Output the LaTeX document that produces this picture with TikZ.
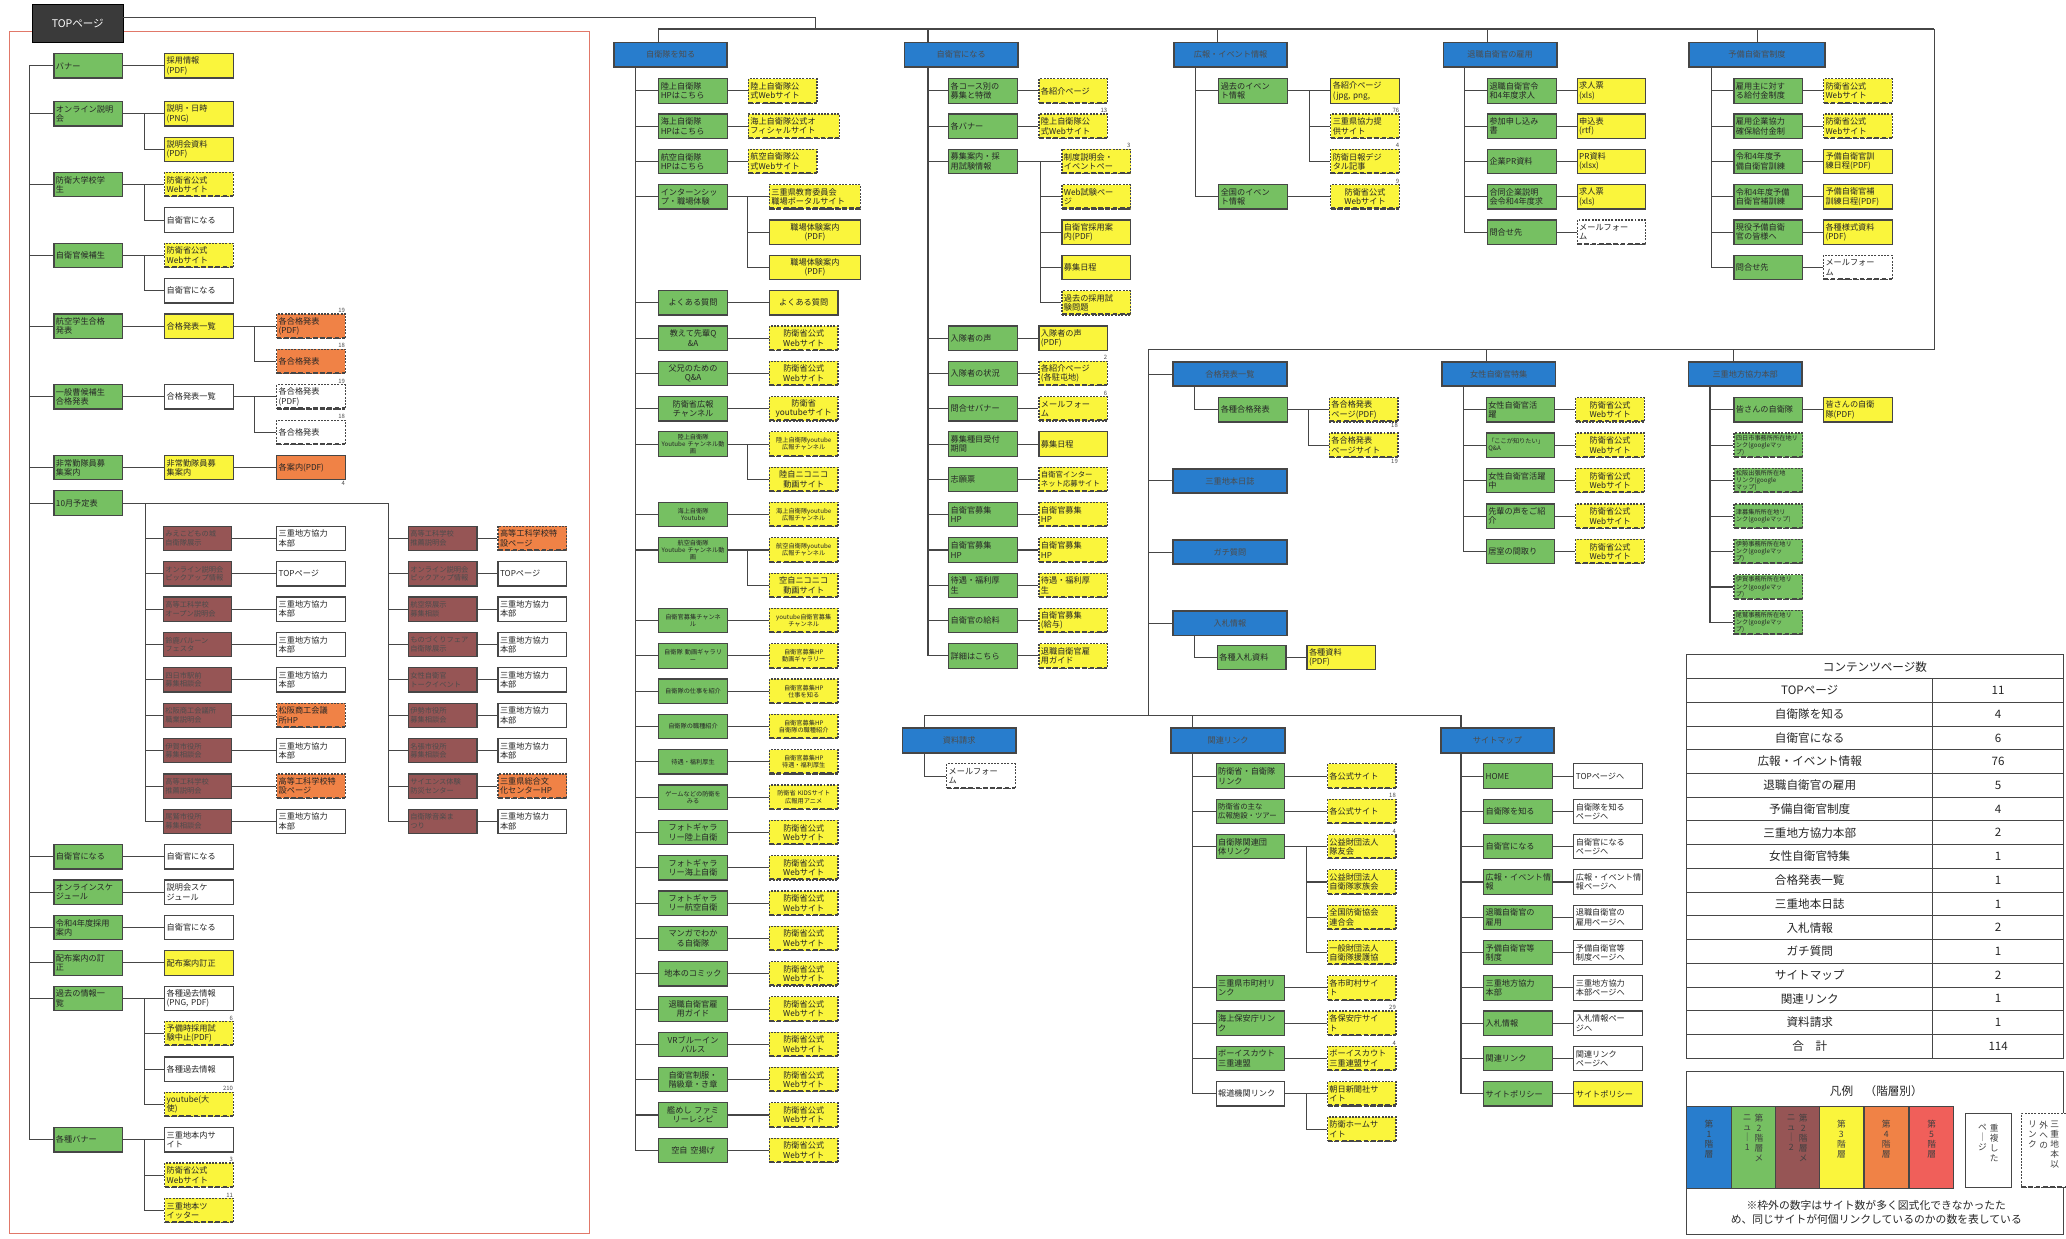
\documentclass[tikz,border=0pt]{standalone}
\usepackage{fontspec}
\setmainfont{Noto Sans CJK JP}
\usetikzlibrary{calc}
\definecolor{cblue}{RGB}{40,125,205}
\definecolor{cgreen}{RGB}{118,192,98}
\definecolor{cbrown}{RGB}{150,85,85}
\definecolor{cyel}{RGB}{250,245,60}
\definecolor{corg}{RGB}{240,130,70}
\definecolor{cred}{RGB}{240,95,90}
\definecolor{cdark}{RGB}{58,58,58}
\definecolor{cframe}{RGB}{225,120,105}
\definecolor{cline}{RGB}{70,70,70}
\newcommand\fsA{\fontsize{6.2}{7.1}\selectfont}
\newcommand\fsB{\fontsize{4.7}{5.4}\selectfont}
\tikzset{
  bx/.style={draw=cline, line width=0.9pt, minimum width=52pt, minimum height=18.5pt, inner xsep=1.5pt, inner ysep=0.5pt, text width=49pt, align=left, font=\fsA, text=black!85},
  gr/.style={bx, fill=cgreen},
  yel/.style={bx, fill=cyel},
  wht/.style={bx, fill=white},
  org/.style={bx, fill=corg},
  brn/.style={bx, fill=cbrown, text=black!70, font=\fontsize{5.5}{6.5}\selectfont},
  wd/.style={minimum width=69pt, text width=66pt},
  blu/.style={draw=cline, line width=1.4pt, fill=cblue, minimum width=86pt, minimum height=18.5pt, inner sep=1pt, font=\fsA, text=black!70},
  extl/.style={dash pattern=on 1.5pt off 1pt, path picture={\draw[cline, line width=2.4pt, dash pattern=on 3.5pt off 2pt] (path picture bounding box.south west) -- (path picture bounding box.south east);}},
  cn/.style={draw=cline, line width=0.8pt},
  numl/.style={font=\fontsize{4.5}{5}\selectfont, inner sep=0.4pt, text=black!70},
  sw/.style={draw=cline, line width=0.6pt, minimum width=33.5pt, minimum height=62pt, inner sep=0pt},
  vt/.style={font=\fontsize{6.6}{7.6}\selectfont, align=center, inner sep=0pt, text=black!75},
  tt/.style={font=\fontsize{8.8}{9}\selectfont, inner sep=0pt, text=black!85}
}
\begin{document}
\begin{tikzpicture}[x=1pt,y=-1pt]
\useasboundingbox[fill=white] (0,0) rectangle (1568,940);
\draw[cframe, line width=0.7pt] (7,24) rectangle (447,936);

% ---------- TOP ----------
\node[draw=black, fill=cdark, minimum width=69pt, minimum height=29pt, text=white, font=\fontsize{8}{9}\selectfont, inner sep=1pt] (top) at (59,17.5) {TOPページ};

% ---------- left column ----------
\node[gr] (lg0) at (67,50) {バナー};
\node[yel] (lc0) at (151,50) {採用情報\\(PDF)};
\node[gr] (lg1) at (67,86.4) {オンライン説明\\会};
\node[yel] (lc1) at (151,86.4) {説明・日時\\(PNG)};
\node[yel] (lc2) at (151,113.3) {説明会資料\\(PDF)};
\node[gr] (lg3) at (67,140.1) {防衛大学校学\\生};
\node[yel,extl] (lc3) at (151,140.1) {防衛省公式\\Webサイト};
\node[wht] (lc4) at (151,167) {自衛官になる};
\node[gr] (lg5) at (67,193.8) {自衛官候補生};
\node[yel,extl] (lc5) at (151,193.8) {防衛省公式\\Webサイト};
\node[wht] (lc6) at (151,220.7) {自衛官になる};
\node[gr] (lg7) at (67,247.5) {航空学生合格\\発表};
\node[yel] (lc7) at (151,247.5) {合格発表一覧};
\node[org,extl] (ld7) at (236,247.5) {各合格発表\\(PDF)};
\node[org,extl] (ld8) at (236,274.4) {各合格発表};
\node[gr] (lg9) at (67,301.2) {一般曹候補生\\合格発表};
\node[wht] (lc9) at (151,301.2) {合格発表一覧};
\node[wht,extl] (ld9) at (236,301.2) {各合格発表\\(PDF)};
\node[wht,extl] (ld10) at (236,328.1) {各合格発表};
\node[gr] (lg11) at (67,354.9) {非常勤隊員募\\集案内};
\node[yel] (lc11) at (151,354.9) {非常勤隊員募\\集案内};
\node[org] (ld11) at (236,354.9) {各案内(PDF)};
\node[gr] (lg12) at (67,381.8) {10月予定表};

\node[brn] (ba13) at (150,408.6) {みえこどもの城\\自衛隊展示};
\node[wht] (wa13) at (236,408.6) {三重地方協力\\本部};
\node[brn] (ba14) at (150,435.5) {オンライン説明会\\ピックアップ情報};
\node[wht] (wa14) at (236,435.5) {TOPページ};
\node[brn] (ba15) at (150,462.3) {高等工科学校\\オープン説明会};
\node[wht] (wa15) at (236,462.3) {三重地方協力\\本部};
\node[brn] (ba16) at (150,489.2) {鈴鹿バルーン\\フェスタ};
\node[wht] (wa16) at (236,489.2) {三重地方協力\\本部};
\node[brn] (ba17) at (150,516) {四日市駅前\\募集相談会};
\node[wht] (wa17) at (236,516) {三重地方協力\\本部};
\node[brn] (ba18) at (150,542.9) {松阪商工会議所\\職業説明会};
\node[org,extl] (wa18) at (236,542.9) {松阪商工会議\\所HP};
\node[brn] (ba19) at (150,569.7) {伊賀市役所\\募集相談会};
\node[wht] (wa19) at (236,569.7) {三重地方協力\\本部};
\node[brn] (ba20) at (150,596.6) {高等工科学校\\推薦説明会};
\node[org,extl] (wa20) at (236,596.6) {高等工科学校特\\設ページ};
\node[brn] (ba21) at (150,623.4) {尾鷲市役所\\募集相談会};
\node[wht] (wa21) at (236,623.4) {三重地方協力\\本部};

\node[brn] (bb13) at (336,408.6) {高等工科学校\\推薦説明会};
\node[org,extl] (wb13) at (404,408.6) {高等工科学校特\\設ページ};
\node[brn] (bb14) at (336,435.5) {オンライン説明会\\ピックアップ情報};
\node[wht] (wb14) at (404,435.5) {TOPページ};
\node[brn] (bb15) at (336,462.3) {航空祭展示\\募集相談};
\node[wht] (wb15) at (404,462.3) {三重地方協力\\本部};
\node[brn] (bb16) at (336,489.2) {ものづくりフェア\\自衛隊展示};
\node[wht] (wb16) at (404,489.2) {三重地方協力\\本部};
\node[brn] (bb17) at (336,516) {女性自衛官\\トークイベント};
\node[wht] (wb17) at (404,516) {三重地方協力\\本部};
\node[brn] (bb18) at (336,542.9) {伊勢市役所\\募集相談会};
\node[wht] (wb18) at (404,542.9) {三重地方協力\\本部};
\node[brn] (bb19) at (336,569.7) {名張市役所\\募集相談会};
\node[wht] (wb19) at (404,569.7) {三重地方協力\\本部};
\node[brn] (bb20) at (336,596.6) {サイエンス体験\\防災センター};
\node[org,extl] (wb20) at (404,596.6) {三重県総合文\\化センターHP};
\node[brn] (bb21) at (336,623.4) {自衛隊音楽ま\\つり};
\node[wht] (wb21) at (404,623.4) {三重地方協力\\本部};

\node[gr] (lg22) at (67,650.3) {自衛官になる};
\node[wht] (lc22) at (151,650.3) {自衛官になる};
\node[gr] (lg23) at (67,677.1) {オンラインスケ\\ジュール};
\node[wht] (lc23) at (151,677.1) {説明会スケ\\ジュール};
\node[gr] (lg24) at (67,704) {令和4年度採用\\案内};
\node[wht] (lc24) at (151,704) {自衛官になる};
\node[gr] (lg25) at (67,730.8) {配布案内の訂\\正};
\node[yel] (lc25) at (151,730.8) {配布案内訂正};
\node[gr] (lg26) at (67,757.7) {過去の情報一\\覧};
\node[wht] (lc26) at (151,757.7) {各種過去情報\\(PNG, PDF)};
\node[yel,extl] (lc27) at (151,784.5) {予備時採用試\\験中止(PDF)};
\node[wht] (lc28) at (151,811.4) {各種過去情報};
\node[yel,extl] (lc29) at (151,838.2) {youtube(大\\使)};
\node[gr] (lg30) at (67,865.1) {各種バナー};
\node[wht] (lc30) at (151,865.1) {三重地本内サ\\イト};
\node[yel,extl] (lc31) at (151,891.9) {防衛省公式\\Webサイト};
\node[yel,extl] (lc32) at (151,918.8) {三重地本ツ\\イッター};

\node[numl,anchor=south east] at (ld7.north east) {19};
\node[numl,anchor=south east] at (ld8.north east) {18};
\node[numl,anchor=south east] at (ld9.north east) {19};
\node[numl,anchor=south east] at (ld10.north east) {18};
\node[numl,anchor=north east] at (ld11.south east) {4};
\node[numl,anchor=south east] at (lc27.north east) {6};
\node[numl,anchor=south east] at (lc29.north east) {210};
\node[numl,anchor=south east] at (lc31.north east) {3};
\node[numl,anchor=south east] at (lc32.north east) {11};

% ---------- 自衛隊を知る ----------
\node[blu] (know) at (509,41.5) {自衛隊を知る};
\node[gr] (k0) at (526,69) {陸上自衛隊\\HPはこちら};
\node[yel,extl] (ky0) at (594,69) {陸上自衛隊公\\式Webサイト};
\node[gr] (k1) at (526,95.8) {海上自衛隊\\HPはこちら};
\node[yel,extl,wd] (ky1) at (602.5,95.8) {海上自衛隊公式オ\\フィシャルサイト};
\node[gr] (k2) at (526,122.6) {航空自衛隊\\HPはこちら};
\node[yel,extl] (ky2) at (594,122.6) {航空自衛隊公\\式Webサイト};
\node[gr] (k3) at (526,149.4) {インターンシッ\\プ・職場体験};
\node[yel,extl,wd] (ky3) at (618.5,149.4) {三重県教育委員会\\職場ポータルサイト};
\node[yel,wd,align=center] (ky4) at (618.5,176.2) {職場体験案内\\(PDF)};
\node[yel,wd,align=center] (ky5) at (618.5,203) {職場体験案内\\(PDF)};
\node[gr,align=center] (k6) at (526,229.8) {よくある質問};
\node[yel,align=center] (ky6) at (610,229.8) {よくある質問};
\node[gr,align=center] (k7) at (526,256.6) {教えて先輩Q\\\&A};
\node[yel,extl,align=center] (ky7) at (610,256.6) {防衛省公式\\Webサイト};
\node[gr,align=center] (k8) at (526,283.4) {父兄のための\\Q\&A};
\node[yel,extl,align=center] (ky8) at (610,283.4) {防衛省公式\\Webサイト};
\node[gr,align=center] (k9) at (526,310.2) {防衛省広報\\チャンネル};
\node[yel,extl,align=center] (ky9) at (610,310.2) {防衛省\\youtubeサイト};
\node[gr,font=\fsB,align=center] (k10) at (526,337) {陸上自衛隊\\Youtube チャンネル動\\画};
\node[yel,extl,font=\fsB,align=center] (ky10) at (610,337) {陸上自衛隊youtube\\広報チャンネル};
\node[yel,extl,align=center] (ky11) at (610,363.8) {陸自ニコニコ\\動画サイト};
\node[gr,font=\fsB,align=center] (k12) at (526,390.6) {海上自衛隊\\Youtube};
\node[yel,extl,font=\fsB,align=center] (ky12) at (610,390.6) {海上自衛隊youtube\\広報チャンネル};
\node[gr,font=\fsB,align=center] (k13) at (526,417.4) {航空自衛隊\\Youtube チャンネル動\\画};
\node[yel,extl,font=\fsB,align=center] (ky13) at (610,417.4) {航空自衛隊youtube\\広報チャンネル};
\node[yel,extl,align=center] (ky14) at (610,444.2) {空自ニコニコ\\動画サイト};
\node[gr,font=\fsB,align=center] (k15) at (526,471) {自衛官募集チャンネ\\ル};
\node[yel,extl,font=\fsB,align=center] (ky15) at (610,471) {youtube自衛官募集\\チャンネル};
\node[gr,font=\fsB,align=center] (k16) at (526,497.8) {自衛隊 動画ギャラリ\\ー};
\node[yel,extl,font=\fsB,align=center] (ky16) at (610,497.8) {自衛官募集HP\\動画ギャラリー};
\node[gr,font=\fsB,align=center] (k17) at (526,524.6) {自衛隊の仕事を紹介};
\node[yel,extl,font=\fsB,align=center] (ky17) at (610,524.6) {自衛官募集HP\\仕事を知る};
\node[gr,font=\fsB,align=center] (k18) at (526,551.4) {自衛隊の職種紹介};
\node[yel,extl,font=\fsB,align=center] (ky18) at (610,551.4) {自衛官募集HP\\自衛隊の職種紹介};
\node[gr,font=\fsB,align=center] (k19) at (526,578.2) {待遇・福利厚生};
\node[yel,extl,font=\fsB,align=center] (ky19) at (610,578.2) {自衛官募集HP\\待遇・福利厚生};
\node[gr,font=\fsB,align=center] (k20) at (526,605) {ゲームなどの防衛を\\みる};
\node[yel,extl,font=\fsB,align=center] (ky20) at (610,605) {防衛省 KIDSサイト\\広報用アニメ};
\node[gr,align=center] (k21) at (526,631.8) {フォトギャラ\\リー陸上自衛};
\node[gr,align=center] (k22) at (526,658.6) {フォトギャラ\\リー海上自衛};
\node[gr,align=center] (k23) at (526,685.4) {フォトギャラ\\リー航空自衛};
\node[gr,align=center] (k24) at (526,712.2) {マンガでわか\\る自衛隊};
\node[gr,align=center] (k25) at (526,739) {地本のコミック};
\node[gr,align=center] (k26) at (526,765.8) {退職自衛官雇\\用ガイド};
\node[gr,align=center] (k27) at (526,792.6) {VRブルーイン\\パルス};
\node[gr,align=center] (k28) at (526,819.4) {自衛官制服・\\階級章・き章};
\node[gr,align=center] (k29) at (526,846.2) {艦めし ファミ\\リーレシピ};
\node[gr,align=center] (k30) at (526,873) {空自 空揚げ};
\node[yel,extl,align=center] (ky21) at (610,631.8) {防衛省公式\\Webサイト};
\node[yel,extl,align=center] (ky22) at (610,658.6) {防衛省公式\\Webサイト};
\node[yel,extl,align=center] (ky23) at (610,685.4) {防衛省公式\\Webサイト};
\node[yel,extl,align=center] (ky24) at (610,712.2) {防衛省公式\\Webサイト};
\node[yel,extl,align=center] (ky25) at (610,739) {防衛省公式\\Webサイト};
\node[yel,extl,align=center] (ky26) at (610,765.8) {防衛省公式\\Webサイト};
\node[yel,extl,align=center] (ky27) at (610,792.6) {防衛省公式\\Webサイト};
\node[yel,extl,align=center] (ky28) at (610,819.4) {防衛省公式\\Webサイト};
\node[yel,extl,align=center] (ky29) at (610,846.2) {防衛省公式\\Webサイト};
\node[yel,extl,align=center] (ky30) at (610,873) {防衛省公式\\Webサイト};

% ---------- 自衛官になる ----------
\node[blu] (naru) at (729.5,41.5) {自衛官になる};
\node[gr] (n0) at (746,69) {各コース別の\\募集と特徴};
\node[yel,extl] (ny0) at (814.5,69) {各紹介ページ};
\node[gr] (n1) at (746,95.8) {各バナー};
\node[yel,extl] (ny1) at (814.5,95.8) {陸上自衛隊公\\式Webサイト};
\node[gr] (n2) at (746,122.6) {募集案内・採\\用試験情報};
\node[yel,extl] (ny2) at (832,122.6) {制度説明会・\\イベントペー};
\node[yel,extl] (ny3) at (832,149.4) {Web試験ペー\\ジ};
\node[yel] (ny4) at (832,176.2) {自衛官採用案\\内(PDF)};
\node[yel] (ny5) at (832,203) {募集日程};
\node[yel,extl] (ny6) at (832,229.8) {過去の採用試\\験問題};
\node[gr] (n7) at (746,256.6) {入隊者の声};
\node[yel] (ny7) at (814.5,256.6) {入隊者の声\\(PDF)};
\node[gr] (n8) at (746,283.4) {入隊者の状況};
\node[yel,extl] (ny8) at (814.5,283.4) {各紹介ページ\\(各駐屯地)};
\node[gr] (n9) at (746,310.2) {問合せバナー};
\node[yel,extl] (ny9) at (814.5,310.2) {メールフォー\\ム};
\node[gr] (n10) at (746,337) {募集種目受付\\期間};
\node[yel] (ny10) at (814.5,337) {募集日程};
\node[gr] (n11) at (746,363.8) {志願票};
\node[yel,extl,font=\fontsize{5.6}{6.6}\selectfont] (ny11) at (814.5,363.8) {自衛官インター\\ネット応募サイト};
\node[gr] (n12) at (746,390.6) {自衛官募集\\HP};
\node[yel,extl] (ny12) at (814.5,390.6) {自衛官募集\\HP};
\node[gr] (n13) at (746,417.4) {自衛官募集\\HP};
\node[yel,extl] (ny13) at (814.5,417.4) {自衛官募集\\HP};
\node[gr] (n14) at (746,444.2) {待遇・福利厚\\生};
\node[yel,extl] (ny14) at (814.5,444.2) {待遇・福利厚\\生};
\node[gr] (n15) at (746,471) {自衛官の給料};
\node[yel,extl] (ny15) at (814.5,471) {自衛官募集\\(給与)};
\node[gr] (n16) at (746,497.8) {詳細はこちら};
\node[yel,extl] (ny16) at (814.5,497.8) {退職自衛官雇\\用ガイド};
\node[numl,anchor=south east] at (ny1.north east) {13};
\node[numl,anchor=south east] at (ny2.north east) {3};
\node[numl,anchor=south east] at (ny8.north east) {2};
\node[numl,anchor=south east] at (ny9.north east) {6};

% ---------- 広報・イベント情報 ----------
\node[blu] (kouhou) at (934,41.5) {広報・イベント情報};
\node[gr] (h0) at (951,69) {過去のイベン\\ト情報};
\node[yel] (hy0) at (1036,69) {各紹介ページ\\(jpg, png,};
\node[yel,extl] (hy1) at (1036,95.8) {三重県協力提\\供サイト};
\node[yel,extl] (hy2) at (1036,122.6) {防衛日報デジ\\タル記事};
\node[gr] (h3) at (951,149.4) {全国のイベン\\ト情報};
\node[yel,extl,align=center] (hy3) at (1036,149.4) {防衛省公式\\Webサイト};
\node[numl,anchor=south east] at (hy1.north east) {76};
\node[numl,anchor=south east] at (hy2.north east) {4};
\node[numl,anchor=south east] at (hy3.north east) {9};

% ---------- 退職自衛官の雇用 ----------
\node[blu] (taishoku) at (1138.5,41.5) {退職自衛官の雇用};
\node[gr] (t0) at (1155,69) {退職自衛官令\\和4年度求人};
\node[yel] (ty0) at (1223,69) {求人票\\(xls)};
\node[gr] (t1) at (1155,95.8) {参加申し込み\\書};
\node[yel] (ty1) at (1223,95.8) {申込表\\(rtf)};
\node[gr] (t2) at (1155,122.6) {企業PR資料};
\node[yel] (ty2) at (1223,122.6) {PR資料\\(xlsx)};
\node[gr] (t3) at (1155,149.4) {合同企業説明\\会令和4年度求};
\node[yel] (ty3) at (1223,149.4) {求人票\\(xls)};
\node[gr] (t4) at (1155,176.2) {問合せ先};
\node[wht,extl] (ty4) at (1223,176.2) {メールフォー\\ム};

% ---------- 予備自衛官制度 ----------
\node[blu,minimum width=103pt] (yobi) at (1333.5,41.5) {予備自衛官制度};
\node[gr] (p0) at (1342,69) {雇用主に対す\\る給付金制度};
\node[yel,extl] (pp0) at (1410,69) {防衛省公式\\Webサイト};
\node[gr] (p1) at (1342,95.8) {雇用企業協力\\確保給付金制};
\node[yel,extl] (pp1) at (1410,95.8) {防衛省公式\\Webサイト};
\node[gr] (p2) at (1342,122.6) {令和4年度予\\備自衛官訓練};
\node[yel] (pp2) at (1410,122.6) {予備自衛官訓\\練日程(PDF)};
\node[gr] (p3) at (1342,149.4) {令和4年度予備\\自衛官補訓練};
\node[yel] (pp3) at (1410,149.4) {予備自衛官補\\訓練日程(PDF)};
\node[gr] (p4) at (1342,176.2) {現役予備自衛\\官の皆様へ};
\node[yel] (pp4) at (1410,176.2) {各種様式資料\\(PDF)};
\node[gr] (p5) at (1342,203) {問合せ先};
\node[wht,extl] (pp5) at (1410,203) {メールフォー\\ム};

% ---------- middle ----------
\node[blu] (gou) at (933.5,284) {合格発表一覧};
\node[gr] (gg) at (951,311) {各種合格発表};
\node[yel,extl] (gy0) at (1035,311) {各合格発表\\ページ(PDF)};
\node[yel,extl] (gy1) at (1035,337.9) {各合格発表\\ページサイト};
\node[numl,anchor=north east] at (gy0.south east) {18};
\node[numl,anchor=north east] at (gy1.south east) {19};
\node[blu] (nisshi) at (933.5,365) {三重地本日誌};
\node[blu] (gachi) at (933.5,419) {ガチ質問};
\node[blu] (nyu) at (933.5,473) {入札情報};
\node[gr] (nn) at (950,499) {各種入札資料};
\node[yel] (nny) at (1018,499) {各種資料\\(PDF)};

\node[blu] (josei) at (1137.5,284) {女性自衛官特集};
\node[gr] (j0) at (1154,311) {女性自衛官活\\躍};
\node[gr,font=\fsB] (j1) at (1154,337.9) {「ここが知りたい」\\Q\&A};
\node[gr] (j2) at (1154,364.8) {女性自衛官活躍\\中};
\node[gr] (j3) at (1154,391.7) {先輩の声をご紹\\介};
\node[gr] (j4) at (1154,418.6) {居室の間取り};
\node[yel,extl,align=center] (jy0) at (1222,311) {防衛省公式\\Webサイト};
\node[yel,extl,align=center] (jy1) at (1222,337.9) {防衛省公式\\Webサイト};
\node[yel,extl,align=center] (jy2) at (1222,364.8) {防衛省公式\\Webサイト};
\node[yel,extl,align=center] (jy3) at (1222,391.7) {防衛省公式\\Webサイト};
\node[yel,extl,align=center] (jy4) at (1222,418.6) {防衛省公式\\Webサイト};

\node[blu] (mie) at (1324.5,284) {三重地方協力本部};
\node[gr] (mi0) at (1342,311) {皆さんの自衛隊};
\node[yel] (miy0) at (1410,311) {皆さんの自衛\\隊(PDF)};
\node[gr,extl,font=\fsB] (mi1) at (1342,337.9) {四日市事務所所在地リ\\ンク(googleマッ\\プ)};
\node[gr,extl,font=\fsB] (mi2) at (1342,364.8) {松阪出張所所在地\\リンク(google\\マップ)};
\node[gr,extl,font=\fsB] (mi3) at (1342,391.7) {津募集所所在地リ\\ンク(googleマップ)};
\node[gr,extl,font=\fsB] (mi4) at (1342,418.6) {伊勢事務所所在地リ\\ンク(googleマッ\\プ)};
\node[gr,extl,font=\fsB] (mi5) at (1342,445.5) {伊賀事務所所在地リ\\ンク(googleマッ\\プ)};
\node[gr,extl,font=\fsB] (mi6) at (1342,472.4) {尾鷲事務所所在地リ\\ンク(googleマッ\\プ)};

% ---------- bottom ----------
\node[blu] (shiryo) at (728,562) {資料請求};
\node[wht,extl] (mail) at (744.5,589) {メールフォー\\ム};
\node[blu] (kanren) at (932,562) {関連リンク};
\node[gr] (r0) at (949,589) {防衛省・自衛隊\\リンク};
\node[yel,extl] (ry0) at (1033.5,589) {各公式サイト};
\node[gr,font=\fontsize{5.6}{6.6}\selectfont] (r1) at (949,615.8) {防衛省の主な\\広報施設・ツアー};
\node[yel,extl] (ry1) at (1033.5,615.8) {各公式サイト};
\node[gr] (r2) at (949,642.6) {自衛隊関連団\\体リンク};
\node[yel,extl] (ry2) at (1033.5,642.6) {公益財団法人\\隊友会};
\node[yel,extl] (ry3) at (1033.5,669.4) {公益財団法人\\自衛隊家族会};
\node[yel,extl] (ry4) at (1033.5,696.2) {全国防衛協会\\連合会};
\node[yel,extl] (ry5) at (1033.5,723) {一般財団法人\\自衛隊援護協};
\node[gr] (r6) at (949,749.8) {三重県市町村リ\\ンク};
\node[yel,extl] (ry6) at (1033.5,749.8) {各市町村サイ\\ト};
\node[gr] (r7) at (949,776.6) {海上保安庁リン\\ク};
\node[yel,extl] (ry7) at (1033.5,776.6) {各保安庁サイ\\ト};
\node[gr] (r8) at (949,803.4) {ボーイスカウト\\三重連盟};
\node[yel,extl] (ry8) at (1033.5,803.4) {ボーイスカウト\\三重連盟サイ};
\node[wht] (r9) at (949,830.2) {報道機関リンク};
\node[yel,extl] (ry9) at (1033.5,830.2) {朝日新聞社サ\\イト};
\node[yel,extl] (ry10) at (1033.5,857) {防衛ホームサ\\イト};
\node[numl,anchor=south east] at (ry1.north east) {18};
\node[numl,anchor=south east] at (ry2.north east) {4};
\node[numl,anchor=south east] at (ry7.north east) {29};
\node[numl,anchor=south east] at (ry8.north east) {4};

\node[blu] (smap) at (1136.5,562) {サイトマップ};
\node[gr] (s0) at (1152,589) {HOME};
\node[wht] (sw0) at (1220.5,589) {TOPページへ};
\node[gr] (s1) at (1152,615.8) {自衛隊を知る};
\node[wht] (sw1) at (1220.5,615.8) {自衛隊を知る\\ページへ};
\node[gr] (s2) at (1152,642.6) {自衛官になる};
\node[wht] (sw2) at (1220.5,642.6) {自衛官になる\\ページへ};
\node[gr] (s3) at (1152,669.4) {広報・イベント情\\報};
\node[wht] (sw3) at (1220.5,669.4) {広報・イベント情\\報ページへ};
\node[gr] (s4) at (1152,696.2) {退職自衛官の\\雇用};
\node[wht] (sw4) at (1220.5,696.2) {退職自衛官の\\雇用ページへ};
\node[gr] (s5) at (1152,723) {予備自衛官等\\制度};
\node[wht] (sw5) at (1220.5,723) {予備自衛官等\\制度ページへ};
\node[gr] (s6) at (1152,749.8) {三重地方協力\\本部};
\node[wht] (sw6) at (1220.5,749.8) {三重地方協力\\本部ページへ};
\node[gr] (s7) at (1152,776.6) {入札情報};
\node[wht] (sw7) at (1220.5,776.6) {入札情報ペー\\ジへ};
\node[gr] (s8) at (1152,803.4) {関連リンク};
\node[wht] (sw8) at (1220.5,803.4) {関連リンク\\ページへ};
\node[gr] (s9) at (1152,830.2) {サイトポリシー};
\node[yel] (sw9) at (1220.5,830.2) {サイトポリシー};

% ---------- connectors: top ----------
\coordinate (ts) at (619,13.5);
\coordinate (ts2) at (619,22);
\coordinate (tr) at (1468,22);
\coordinate (mr) at (1468,265);
\coordinate (ml) at (872,265);
\coordinate (mb) at (872,543);
\draw[cn] (top.east |- ts) -- (ts) -- (ts2);
\draw[cn] ([xshift=-9pt]know.north) |- (tr);
\draw[cn] ([xshift=18.5pt]naru.north west) |- (tr);
\draw[cn] ([xshift=34pt]kouhou.north west) |- (tr);
\draw[cn] ([xshift=34pt]taishoku.north west) |- (tr);
\draw[cn] (yobi.north) |- (tr);
\draw[cn] (tr) -- (mr) -- (ml) -- (mb);

% left column
\draw[cn] (lg0.west) -- ++(-18,0) |- (lg30.west);
\foreach \i in {1,3,5,7,9,11,12,22,23,24,25,26} \draw[cn] (lg\i.west) -- ++(-18,0);
\foreach \i in {0,1,3,5,7,9,11,22,23,24,25,26,30} \draw[cn] (lg\i.east) -- (lc\i.west);
\draw[cn] (lg1.east) -- ++(16,0) |- (lc2.west);
\draw[cn] (lg3.east) -- ++(16,0) |- (lc4.west);
\draw[cn] (lg5.east) -- ++(16,0) |- (lc6.west);
\draw[cn] (lc7.east) -- (ld7.west);
\draw[cn] (lc7.east) -- ++(16,0) |- (ld8.west);
\draw[cn] (lc9.east) -- (ld9.west);
\draw[cn] (lc9.east) -- ++(16,0) |- (ld10.west);
\draw[cn] (lc11.east) -- (ld11.west);
\foreach \i in {27,28,29} \draw[cn] (lg26.east) -- ++(16,0) |- (lc\i.west);
\foreach \i in {31,32} \draw[cn] (lg30.east) -- ++(16,0) |- (lc\i.west);
\coordinate (oc) at (295,381.8);
\draw[cn] (lg12.east) -- (oc) |- (bb21.west);
\foreach \i in {13,...,20} \draw[cn] (oc) |- (bb\i.west);
\foreach \i in {13,...,21} {
  \draw[cn] (lg12.east) -- ++(17,0) |- (ba\i.west);
  \draw[cn] (ba\i.east) -- (wa\i.west);
  \draw[cn] (bb\i.east) -- (wb\i.west);
}

% 自衛隊を知る
\foreach \i in {0,1,2,3,6,7,8,9,10,12,13,15,16,17,18,19,20,21,22,23,24,25,26,27,28,29,30}
  \draw[cn] ([xshift=17pt]know.south west) |- (k\i.west);
\foreach \i in {0,1,2,6,7,8,9,12,15,16,17,18,19,20,21,22,23,24,25,26,27,28,29,30}
  \draw[cn] (k\i.east) -- (ky\i.west);
\foreach \i in {3,4,5} \draw[cn] (k3.east) -- ++(15,0) |- (ky\i.west);
\foreach \i in {10,11} \draw[cn] (k10.east) -- ++(15,0) |- (ky\i.west);
\foreach \i in {13,14} \draw[cn] (k13.east) -- ++(15,0) |- (ky\i.west);

% 自衛官になる
\foreach \i in {0,1,2,7,8,9,10,11,12,13,14,15,16}
  \draw[cn] ([xshift=18.5pt]naru.south west) |- (n\i.west);
\foreach \i in {0,1,7,8,9,10,11,12,13,14,15,16} \draw[cn] (n\i.east) -- (ny\i.west);
\foreach \i in {2,3,4,5,6} \draw[cn] (n2.east) -- ++(17,0) |- (ny\i.west);

% 広報
\foreach \i in {0,3} \draw[cn] ([xshift=17pt]kouhou.south west) |- (h\i.west);
\foreach \i in {0,1,2} \draw[cn] (h0.east) -- ++(16.5,0) |- (hy\i.west);
\draw[cn] (h3.east) -- (hy3.west);

% 退職
\foreach \i in {0,...,4} {
  \draw[cn] ([xshift=17pt]taishoku.south west) |- (t\i.west);
  \draw[cn] (t\i.east) -- (ty\i.west);
}
% 予備
\foreach \i in {0,...,5} {
  \draw[cn] ([xshift=17.5pt]yobi.south west) |- (p\i.west);
  \draw[cn] (p\i.east) -- (pp\i.west);
}

% middle
\draw[cn] (ml) |- (gou.west);
\draw[cn] (ml) |- (nisshi.west);
\draw[cn] (ml) |- (gachi.west);
\draw[cn] (ml) |- (nyu.west);
\draw[cn] ([xshift=17pt]gou.south west) |- (gg.west);
\draw[cn] (gg.east) -- ++(15.5,0) |- (gy0.west);
\draw[cn] (gg.east) -- ++(15.5,0) |- (gy1.west);
\draw[cn] ([xshift=17pt]nyu.south west) |- (nn.west);
\draw[cn] (nn.east) -- (nny.west);
\draw[cn] ([xshift=34.5pt]josei.north west) |- (mr);
\draw[cn] ([xshift=34.5pt]mie.north west) |- (mr);
\foreach \i in {0,...,4} {
  \draw[cn] ([xshift=17pt]josei.south west) |- (j\i.west);
  \draw[cn] (j\i.east) -- (jy\i.west);
}
\foreach \i in {0,...,6} \draw[cn] ([xshift=17pt]mie.south west) |- (mi\i.west);
\draw[cn] (mi0.east) -- (miy0.west);

% bottom
\draw[cn] ([xshift=17pt]shiryo.north west) |- (mb);
\draw[cn] ([xshift=17pt]kanren.north west) |- (mb);
\draw[cn] ([xshift=16pt]smap.north west) |- (mb);
\draw[cn] ([xshift=17pt]shiryo.south west) |- (mail.west);
\foreach \i in {0,1,2,6,7,8,9} \draw[cn] ([xshift=17pt]kanren.south west) |- (r\i.west);
\foreach \i in {0,1,2,6,7,8,9} \draw[cn] (r\i.east) -- (ry\i.west);
\foreach \i in {3,4,5} \draw[cn] (r2.east) -- ++(16,0) |- (ry\i.west);
\draw[cn] (r9.east) -- ++(16,0) |- (ry10.west);
\foreach \i in {0,...,9} {
  \draw[cn] ([xshift=16pt]smap.south west) |- (s\i.west);
  \draw[cn] (s\i.east) -- (sw\i.west);
}

% ---------- table ----------
\draw[cline, line width=0.8pt] (1280,497) rectangle (1566,803);
\foreach \k in {0,...,15} \draw[cline, line width=0.6pt] (1280,{515+18*\k}) -- (1566,{515+18*\k});
\draw[cline, line width=0.8pt] (1467,515) -- (1467,803);
\node[tt] (thead) at (1423,506) {コンテンツページ数};
\foreach \i/\a/\b in {0/TOPページ/11, 1/自衛隊を知る/4, 2/自衛官になる/6, 3/広報・イベント情報/76, 4/退職自衛官の雇用/5, 5/予備自衛官制度/4, 6/三重地方協力本部/2, 7/女性自衛官特集/1, 8/合格発表一覧/1, 9/三重地本日誌/1, 10/入札情報/2, 11/ガチ質問/1, 12/サイトマップ/2, 13/関連リンク/1, 14/資料請求/1, 15/合　計/114} {
  \node[tt] (ta\i) at (1373.5,{524+18*\i}) {\a};
  \node[tt] (tb\i) at (1516.5,{524+18*\i}) {\b};
}

% ---------- legend ----------
\draw[cline, line width=0.8pt] (1280,813) rectangle (1566,937);
\node[tt] (lgt) at (1424,828) {凡例　（階層別）};
\node[sw, fill=cblue] (sa) at (1297,871) {};
\node[sw, fill=cgreen] (sb) at (1330.5,871) {};
\node[sw, fill=cbrown] (sc) at (1364,871) {};
\node[sw, fill=cyel] (sd) at (1397.5,871) {};
\node[sw, fill=corg] (se) at (1431.5,871) {};
\node[sw, fill=cred] (sf) at (1466,871) {};
\node[sw, fill=white, minimum width=35pt, minimum height=56pt] (sg) at (1509,873) {};
\node[sw, fill=white, minimum width=34pt, minimum height=56pt, extl] (sh) at (1551,873) {};
\node[vt,anchor=north] at ([yshift=-10pt]sa.north) {第\\1\\階\\層};
\node[vt,anchor=north] at ([xshift=4.5pt,yshift=-6pt]sb.north) {第\\2\\階\\層\\メ};
\node[vt,anchor=north] at ([xshift=-4.5pt,yshift=-6pt]sb.north) {ニ\\ュ\\｜\\1};
\node[vt,anchor=north] at ([xshift=4.5pt,yshift=-6pt]sc.north) {第\\2\\階\\層\\メ};
\node[vt,anchor=north] at ([xshift=-4.5pt,yshift=-6pt]sc.north) {ニ\\ュ\\｜\\2};
\node[vt,anchor=north] at ([yshift=-10pt]sd.north) {第\\3\\階\\層};
\node[vt,anchor=north] at ([yshift=-10pt]se.north) {第\\4\\階\\層};
\node[vt,anchor=north] at ([yshift=-10pt]sf.north) {第\\5\\階\\層};
\node[vt,anchor=north] at ([xshift=4.5pt,yshift=-8pt]sg.north) {重\\複\\し\\た};
\node[vt,anchor=north] at ([xshift=-4.5pt,yshift=-8pt]sg.north) {ペ\\｜\\ジ};
\node[vt,anchor=north] at ([xshift=8.5pt,yshift=-6pt]sh.north) {三\\重\\地\\本\\以};
\node[vt,anchor=north] at ([xshift=0pt,yshift=-6pt]sh.north) {外\\へ\\の};
\node[vt,anchor=north] at ([xshift=-8.5pt,yshift=-6pt]sh.north) {リ\\ン\\ク};
\node[font=\fontsize{8.2}{10.5}\selectfont, align=center, inner sep=0pt, text=black!85] (note) at (1424,920) {※枠外の数字はサイト数が多く図式化できなかったた\\め、同じサイトが何個リンクしているのかの数を表している};
\end{tikzpicture}
\end{document}
